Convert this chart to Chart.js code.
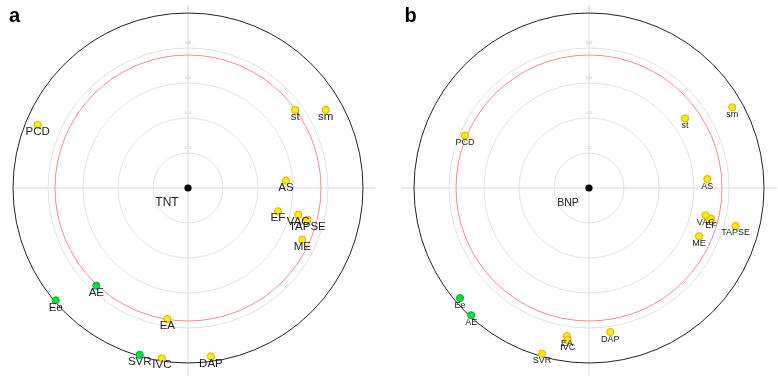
<!DOCTYPE html>
<html>
<head>
<meta charset="utf-8">
<script src="https://cdn.jsdelivr.net/npm/chart.js@4.4.0/dist/chart.umd.min.js"></script>
<style>
  body { margin: 0; background: #fff; width: 778px; height: 376px; position: relative; overflow: hidden; }
  canvas { position: absolute; top: 0; }
  #chartA { left: 0; }
  #chartB { left: 401px; }
</style>
</head>
<body>
<canvas id="chartA" width="376" height="376"></canvas>
<canvas id="chartB" width="376" height="376"></canvas>
<script>
// rings of the circle plot (outer black ring = 1)
const ringValues = [0.2, 0.4, 0.6, 0.8, 1.0];
const ringTicks = ['0.2', '0.4', '0.6', '0.8', '1'];
const redRing = 0.76;

// panel a : TNT
const namesA = ['st', 'sm', 'PCD', 'AS', 'EF', 'VAC', 'TAPSE', 'ME', 'AE', 'Ee', 'EA', 'SVR', 'IVC', 'DAP'];
const xA = [0.613, 0.787, -0.859, 0.560, 0.514, 0.630, 0.682, 0.653, -0.524, -0.756, -0.118, -0.276, -0.149, 0.131];
const yA = [0.446, 0.446, 0.360, 0.042, -0.133, -0.153, -0.181, -0.295, -0.558, -0.642, -0.749, -0.953, -0.973, -0.962];
const greenA = ['AE', 'Ee', 'SVR'];

// panel b : BNP
const namesB = ['PCD', 'st', 'sm', 'AS', 'EF', 'VAC', 'TAPSE', 'ME', 'Ee', 'AE', 'EA', 'IVC', 'DAP', 'SVR'];
const xB = [-0.709, 0.549, 0.819, 0.676, 0.697, 0.667, 0.838, 0.629, -0.737, -0.673, -0.126, -0.122, 0.122, -0.269];
const yB = [0.299, 0.398, 0.461, 0.051, -0.175, -0.156, -0.217, -0.276, -0.629, -0.727, -0.846, -0.869, -0.823, -0.947];
const greenB = ['Ee', 'AE'];

const FONT = '"Liberation Sans", Arial, sans-serif';
const R = 188 / 175;

/**
 * Draws rings, axis lines, tick texts and the point names
 */
const circlePlot = {
    id: 'circlePlot',
    beforeDatasetsDraw(chart, args, opts) {
        const ctx = chart.ctx;
        const xs = chart.scales.x, ys = chart.scales.y;
        const cx = xs.getPixelForValue(0), cy = ys.getPixelForValue(0);
        const unit = xs.getPixelForValue(1) - cx;
        ctx.save();
        ctx.lineWidth = 1;

        // cross lines
        ctx.strokeStyle = '#dcdcdc';
        ctx.beginPath();
        ctx.moveTo(xs.getPixelForValue(opts.hLine[0]), cy);
        ctx.lineTo(xs.getPixelForValue(opts.hLine[1]), cy);
        ctx.moveTo(cx, ys.getPixelForValue(1.046));
        ctx.lineTo(cx, ys.getPixelForValue(-R));
        ctx.stroke();

        // rings
        ringValues.forEach((r, i) => {
            ctx.strokeStyle = (r === 1) ? '#222' : '#e0e0e0';
            ctx.beginPath();
            ctx.arc(cx, cy, r * unit, 0, Math.PI * 2);
            ctx.stroke();
        });
        ctx.strokeStyle = '#ff8a8a';
        ctx.beginPath();
        ctx.arc(cx, cy, redRing * unit, 0, Math.PI * 2);
        ctx.stroke();

        // tiny tick texts on the vertical axis
        ctx.fillStyle = '#b5b5b5';
        ctx.font = '4px ' + FONT;
        ctx.textAlign = 'center';
        ctx.textBaseline = 'middle';
        ringValues.forEach((r, i) => {
            ctx.fillText(ringTicks[i], cx, cy - r * unit - 5);
        });

        // panel letter
        ctx.fillStyle = '#000';
        ctx.font = 'bold 20px ' + FONT;
        ctx.textAlign = 'left';
        ctx.textBaseline = 'alphabetic';
        ctx.fillText(opts.letter, opts.letterX, 22);
        ctx.restore();
    },
    afterDatasetsDraw(chart, args, opts) {
        const ctx = chart.ctx;
        ctx.save();
        ctx.fillStyle = '#222';
        ctx.textAlign = 'center';
        ctx.textBaseline = 'middle';
        chart.data.datasets.forEach((ds, di) => {
            const meta = chart.getDatasetMeta(di);
            ds.names.forEach((n, i) => {
                const el = meta.data[i];
                if (ds.center) {
                    ctx.font = opts.centerSize + 'px ' + FONT;
                    ctx.fillText(n, el.x - 21, el.y + 15);
                } else {
                    ctx.font = opts.labelSize + 'px ' + FONT;
                    ctx.fillText(n, el.x, el.y + 7);
                }
            });
        });
        ctx.restore();
    }
};

function makeDatasets(names, xs, ys, greens, centerName) {
    const yellow = { names: [], data: [] };
    const green = { names: [], data: [] };
    names.forEach((n, i) => {
        const grp = greens.includes(n) ? green : yellow;
        grp.names.push(n);
        grp.data.push({ x: xs[i], y: ys[i] });
    });
    return [
        {
            names: yellow.names, data: yellow.data,
            backgroundColor: '#ffee00', borderColor: '#f5a000',
            pointRadius: 3.6, borderWidth: 1
        },
        {
            names: green.names, data: green.data,
            backgroundColor: '#00e03a', borderColor: '#1aaa30',
            pointRadius: 3.6, borderWidth: 1
        },
        {
            names: [centerName], center: true, data: [{ x: 0, y: 0 }],
            backgroundColor: '#000', borderColor: '#000',
            pointRadius: 3.6, borderWidth: 0
        }
    ];
}

function circleChart(id, datasets, pluginOpts) {
    return new Chart(document.getElementById(id), {
        type: 'scatter',
        data: { datasets: datasets },
        options: {
            responsive: false,
            animation: false,
            layout: { padding: 0, autoPadding: false },
            scales: {
                x: { type: 'linear', min: -R, max: R, display: false },
                y: { type: 'linear', min: -R, max: R, display: false }
            },
            plugins: {
                legend: { display: false },
                tooltip: { enabled: false },
                circlePlot: pluginOpts
            }
        },
        plugins: [circlePlot]
    });
}

const chartA = circleChart('chartA', makeDatasets(namesA, xA, yA, greenA, 'TNT'), {
    letter: 'a', letterX: 9, hLine: [-1.0, 1.069], labelSize: 11.5, centerSize: 12
});

const chartB = circleChart('chartB', makeDatasets(namesB, xB, yB, greenB, 'BNP'), {
    letter: 'b', letterX: 3.5, hLine: [-R, R], labelSize: 9, centerSize: 10.5
});
</script>
</body>
</html>
